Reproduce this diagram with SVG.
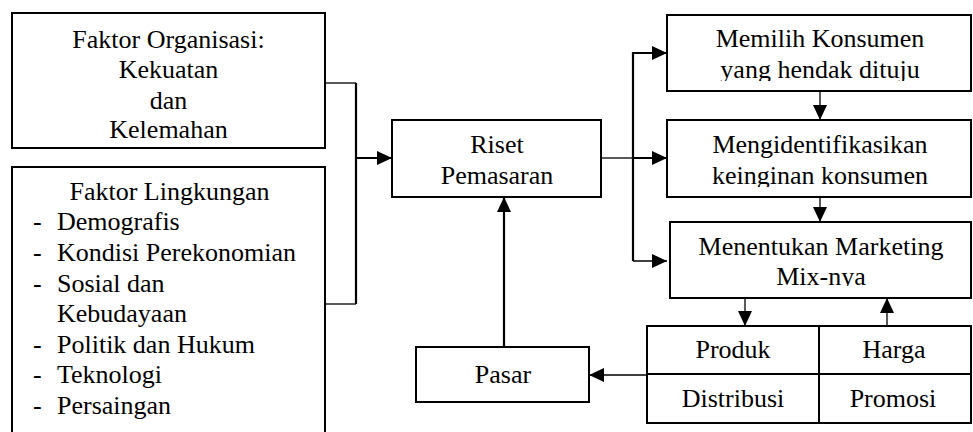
<svg xmlns="http://www.w3.org/2000/svg" width="973" height="432" viewBox="0 0 973 432">
<style>
.box{fill:#fff;stroke:#000;stroke-width:2}
.t{font-family:"Liberation Serif","Times New Roman",serif;font-size:26px;fill:#000}
.c{text-anchor:middle}
.ln{fill:none;stroke:#000}
.thin{stroke-width:1.3}
.thick{stroke-width:2.2}
</style>
<defs>
<marker id="ah" markerUnits="userSpaceOnUse" markerWidth="15" markerHeight="14" refX="15" refY="7" orient="auto">
<path d="M0,0 L15,7 L0,14 z" fill="#000"/>
</marker>
<clipPath id="clipA"><rect x="667" y="15" width="305" height="66"/></clipPath>
<clipPath id="clipB"><rect x="667" y="120" width="305" height="67"/></clipPath>
<clipPath id="clipC"><rect x="670" y="222" width="302" height="64"/></clipPath>
</defs>
<g id="connectors">
<path class="ln thin" d="M325,83 H356"/>
<path class="ln thin" d="M325,304 H356"/>
<path class="ln thick" d="M356,83 V304"/>
<path class="ln thick" d="M356,158 H392" marker-end="url(#ah)"/>
<path class="ln thin" d="M601,158 H633"/>
<path class="ln thick" d="M633,158 H667" marker-end="url(#ah)"/>
<path class="ln thick" d="M633,261 V53 H667" marker-end="url(#ah)"/>
<path class="ln thin" d="M633,261 H667" marker-end="url(#ah)"/>
<path class="ln thin" d="M820,91 V120" marker-end="url(#ah)"/>
<path class="ln thin" d="M820,197 V222" marker-end="url(#ah)"/>
<path class="ln thin" d="M745,298 V326" marker-end="url(#ah)"/>
<path class="ln thin" d="M887,326 V298" marker-end="url(#ah)"/>
<path class="ln thin" d="M647,375 H589" marker-end="url(#ah)"/>
<path class="ln thick" d="M504,347 V197" marker-end="url(#ah)"/>
</g>
<g id="organisasi">
<rect class="box" x="12" y="13" width="313" height="135"/>
<text class="t c" x="168.5" y="48">Faktor Organisasi:</text>
<text class="t c" x="168.5" y="78">Kekuatan</text>
<text class="t c" x="168.5" y="109">dan</text>
<text class="t c" x="168.5" y="138">Kelemahan</text>
</g>
<g id="lingkungan">
<rect class="box" x="12" y="167" width="313" height="280"/>
<text class="t c" x="169.5" y="200">Faktor Lingkungan</text>
<text class="t" x="33" y="230">-</text><text class="t" x="57" y="230">Demografis</text>
<text class="t" x="33" y="261">-</text><text class="t" x="57" y="261">Kondisi Perekonomian</text>
<text class="t" x="33" y="292">-</text><text class="t" x="57" y="292">Sosial dan</text>
<text class="t" x="57" y="322">Kebudayaan</text>
<text class="t" x="33" y="353">-</text><text class="t" x="57" y="353">Politik dan Hukum</text>
<text class="t" x="33" y="383">-</text><text class="t" x="57" y="383">Teknologi</text>
<text class="t" x="33" y="414">-</text><text class="t" x="57" y="414">Persaingan</text>
</g>
<g id="riset">
<rect class="box" x="392" y="120" width="209" height="77"/>
<text class="t c" x="497" y="153">Riset</text>
<text class="t c" x="497" y="184">Pemasaran</text>
</g>
<g id="memilih">
<rect class="box" x="667" y="15" width="304" height="76"/>
<g clip-path="url(#clipA)">
<text class="t c" x="820" y="47">Memilih Konsumen</text>
<text class="t c" x="820" y="78">yang hendak dituju</text>
</g>
</g>
<g id="mengidentifikasi">
<rect class="box" x="667" y="120" width="304" height="77"/>
<g clip-path="url(#clipB)">
<text class="t c" x="820" y="153">Mengidentifikasikan</text>
<text class="t c" x="820" y="184">keinginan konsumen</text>
</g>
</g>
<g id="menentukan">
<rect class="box" x="670" y="222" width="301" height="76"/>
<g clip-path="url(#clipC)">
<text class="t c" x="821" y="255">Menentukan Marketing</text>
<text class="t c" x="821" y="285">Mix-nya</text>
</g>
</g>
<g id="mix">
<rect class="box" x="647" y="326" width="324" height="97"/>
<path class="ln" stroke-width="2" d="M647,374 H971 M819,326 V423"/>
<text class="t c" x="733" y="358">Produk</text>
<text class="t c" x="894" y="358">Harga</text>
<text class="t c" x="733" y="407">Distribusi</text>
<text class="t c" x="893" y="407">Promosi</text>
</g>
<g id="pasar">
<rect class="box" x="416" y="347" width="173" height="55"/>
<text class="t c" x="503" y="383">Pasar</text>
</g>
</svg>
